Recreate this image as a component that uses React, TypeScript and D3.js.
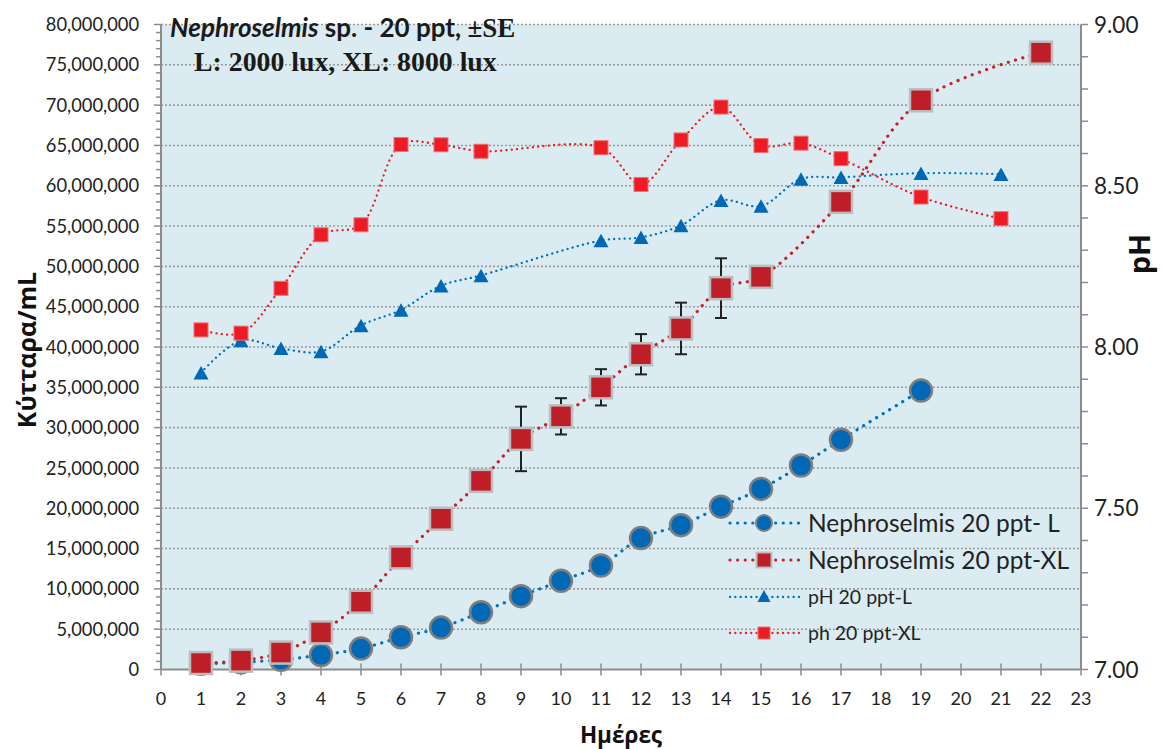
import React from "react";
import * as d3 from "d3";

// Cell counts (millions of cells/mL) and pH over the culture days
const cellDaysL = [1, 2, 3, 4, 5, 6, 7, 8, 9, 10, 11, 12, 13, 14, 15, 16, 17, 19];
const cellL = [0.7, 0.9, 1.2, 1.8, 2.6, 4.0, 5.2, 7.1, 9.1, 11.0, 12.9, 16.3, 17.9, 20.2, 22.4, 25.3, 28.5, 34.6];

const cellDaysXL = [1, 2, 3, 4, 5, 6, 7, 8, 9, 10, 11, 12, 13, 14, 15, 17, 19, 22];
const cellXL = [0.8, 1.1, 2.1, 4.6, 8.4, 13.9, 18.7, 23.4, 28.6, 31.4, 35.0, 39.1, 42.3, 47.3, 48.7, 58.0, 70.6, 76.5];
const seXL = [0, 0, 0, 0, 0, 0, 0, 0, 4.0, 2.25, 2.25, 2.5, 3.2, 3.7, 0, 0, 0, 0];

const phDays = [1, 2, 3, 4, 5, 6, 7, 8, 11, 12, 13, 14, 15, 16, 17, 19, 21];
const phL = [7.92, 8.02, 7.996, 7.986, 8.067, 8.115, 8.19, 8.222, 8.33, 8.34, 8.377, 8.455, 8.437, 8.521, 8.526, 8.539, 8.536];
const phXL = [8.053, 8.043, 8.182, 8.348, 8.379, 8.628, 8.627, 8.607, 8.618, 8.504, 8.642, 8.744, 8.625, 8.632, 8.584, 8.465, 8.398];

const xTicks = d3.range(0, 24);
const cellTicks = d3.range(0, 85, 5); // millions
const phTicks = [7.0, 7.5, 8.0, 8.5, 9.0];

const legendLabels = [
  "Nephroselmis 20 ppt- L",
  "Nephroselmis 20 ppt-XL",
  "pH 20 ppt-L",
  "ph 20 ppt-XL",
];

const W = 1162;
const H = 749;
const plot = { left: 161, right: 1081, top: 24.5, bottom: 669.5 };

const BLUE = "#0068b5";
const DARKRED = "#be1e27";
const RED = "#ed1c24";
const NUM_FONT = "Lato, 'Open Sans', sans-serif";
const GREEK_FONT = "'Open Sans', 'Noto Sans', sans-serif";
const SERIF = "'Liberation Serif', 'Times New Roman', serif";

export default function App() {
  const x = d3.scaleLinear().domain([0, 23]).range([plot.left, plot.right]);
  const y = d3.scaleLinear().domain([0, 80]).range([plot.bottom, plot.top]);
  const yPh = d3.scaleLinear().domain([7, 9]).range([plot.bottom, plot.top]);

  const curve = d3.curveCatmullRom.alpha(0.5);
  const lineCell = d3
    .line<[number, number]>()
    .x((d) => x(d[0]))
    .y((d) => y(d[1]))
    .curve(curve);
  const linePh = d3
    .line<[number, number]>()
    .x((d) => x(d[0]))
    .y((d) => yPh(d[1]))
    .curve(curve);

  const ptsL = cellDaysL.map((d, i) => [d, cellL[i]] as [number, number]);
  const ptsXL = cellDaysXL.map((d, i) => [d, cellXL[i]] as [number, number]);
  const ptsPhL = phDays.map((d, i) => [d, phL[i]] as [number, number]);
  const ptsPhXL = phDays.map((d, i) => [d, phXL[i]] as [number, number]);

  const minorCell = d3.range(0, 81, 1);
  const minorPh = d3.range(70, 91, 1).map((v) => v / 10);

  const tri = (cx: number, cy: number, w: number, h: number) =>
    `M${cx},${cy - h / 2}L${cx + w / 2},${cy + h / 2}L${cx - w / 2},${cy + h / 2}Z`;

  const legendY = [523, 560, 597, 633];
  const lgX0 = 730;
  const lgX1 = 800;
  const lgM = 764;

  return (
    <svg width={W} height={H} style={{ display: "block", position: "absolute", left: 0, top: 0 }}>
      <rect x={0} y={0} width={W} height={H} fill="#ffffff" />
      <rect
        x={plot.left}
        y={plot.top}
        width={plot.right - plot.left}
        height={plot.bottom - plot.top}
        fill="#daecf2"
      />

      {/* horizontal gridlines */}
      {cellTicks.slice(1).map((v) => (
        <line
          key={"g" + v}
          x1={plot.left}
          x2={plot.right}
          y1={y(v)}
          y2={y(v)}
          stroke="#9a9a9a"
          strokeWidth={1.6}
          strokeDasharray="2 2"
        />
      ))}

      {/* left axis */}
      <line x1={plot.left} x2={plot.left} y1={plot.top} y2={plot.bottom} stroke="#8c8c8c" strokeWidth={2} />
      {minorCell.map((v) => (
        <line
          key={"lm" + v}
          x1={plot.left - (v % 5 === 0 ? 7 : 5)}
          x2={plot.left}
          y1={y(v)}
          y2={y(v)}
          stroke="#8c8c8c"
          strokeWidth={1.5}
        />
      ))}
      {cellTicks.map((v) => (
        <text
          key={"lt" + v}
          x={139}
          y={y(v)}
          dy="0.36em"
          textAnchor="end"
          fontFamily={NUM_FONT}
          fontSize={18.3}
          fill="#222"
        >
          {d3.format(",")(v * 1e6)}
        </text>
      ))}

      {/* right axis */}
      <line x1={plot.right} x2={plot.right} y1={plot.top} y2={plot.bottom} stroke="#8c8c8c" strokeWidth={2} />
      {minorPh.map((v) => (
        <line
          key={"rm" + v}
          x1={plot.right}
          x2={plot.right + 7}
          y1={yPh(v)}
          y2={yPh(v)}
          stroke="#8c8c8c"
          strokeWidth={1.5}
        />
      ))}
      {phTicks.map((v) => (
        <text
          key={"rt" + v}
          x={1094}
          y={yPh(v)}
          dy="0.36em"
          fontFamily={NUM_FONT}
          fontSize={22.5}
          fill="#222"
        >
          {v.toFixed(2)}
        </text>
      ))}

      {/* bottom axis */}
      <line x1={plot.left} x2={plot.right} y1={plot.bottom} y2={plot.bottom} stroke="#8c8c8c" strokeWidth={2} />
      {xTicks.map((v) => (
        <g key={"xt" + v}>
          <line x1={x(v)} x2={x(v)} y1={plot.bottom - 6} y2={plot.bottom + 6} stroke="#8c8c8c" strokeWidth={1.5} />
          <text
            x={x(v)}
            y={705}
            textAnchor="middle"
            fontFamily={NUM_FONT}
            fontSize={18}
            fill="#222"
          >
            {v}
          </text>
        </g>
      ))}

      {/* axis titles */}
      <text
        transform={`translate(36,350) rotate(-90)`}
        textAnchor="middle"
        fontFamily={GREEK_FONT}
        fontWeight="bold"
        fontSize={25}
        fill="#111"
      >
        Κύτταρα/mL
      </text>
      <text
        transform={`translate(1150,254) rotate(-90)`}
        textAnchor="middle"
        fontFamily={GREEK_FONT}
        fontWeight="bold"
        fontSize={29}
        fill="#111"
      >
        pH
      </text>
      <text
        x={621}
        y={743}
        textAnchor="middle"
        fontFamily={GREEK_FONT}
        fontWeight="bold"
        fontSize={22.5}
        fill="#111"
      >
        Ημέρες
      </text>

      {/* cell count series, L */}
      <path
        d={lineCell(ptsL) || ""}
        fill="none"
        stroke="#0070c0"
        strokeWidth={3.2}
        strokeLinecap="round"
        strokeDasharray="0.1 7.5"
      />
      {ptsL.map((p, i) => (
        <circle key={"cl" + i} cx={x(p[0])} cy={y(p[1])} r={11} fill={BLUE} stroke="#7f7f7f" strokeWidth={2.5} />
      ))}

      {/* cell count series, XL with ±SE */}
      <path
        d={lineCell(ptsXL) || ""}
        fill="none"
        stroke="#c8202a"
        strokeWidth={3.2}
        strokeLinecap="round"
        strokeDasharray="0.1 7.5"
      />
      {ptsXL.map((p, i) =>
        seXL[i] > 0 ? (
          <g key={"se" + i} stroke="#222" strokeWidth={2}>
            <line x1={x(p[0])} x2={x(p[0])} y1={y(p[1] - seXL[i])} y2={y(p[1] + seXL[i])} />
            <line x1={x(p[0]) - 6} x2={x(p[0]) + 6} y1={y(p[1] + seXL[i])} y2={y(p[1] + seXL[i])} />
            <line x1={x(p[0]) - 6} x2={x(p[0]) + 6} y1={y(p[1] - seXL[i])} y2={y(p[1] - seXL[i])} />
          </g>
        ) : null
      )}
      {ptsXL.map((p, i) => (
        <rect
          key={"cx" + i}
          x={x(p[0]) - 11}
          y={y(p[1]) - 11}
          width={22}
          height={22}
          fill={DARKRED}
          stroke="#bdbdbd"
          strokeWidth={2.5}
        />
      ))}

      {/* pH series, L */}
      <path
        d={linePh(ptsPhL) || ""}
        fill="none"
        stroke="#0070c0"
        strokeWidth={2.3}
        strokeLinecap="round"
        strokeDasharray="0.1 5.2"
      />
      {ptsPhL.map((p, i) => (
        <path key={"pl" + i} d={tri(x(p[0]), yPh(p[1]), 15, 13.5)} fill={BLUE} />
      ))}

      {/* pH series, XL */}
      <path
        d={linePh(ptsPhXL) || ""}
        fill="none"
        stroke={RED}
        strokeWidth={2.3}
        strokeLinecap="round"
        strokeDasharray="0.1 5.2"
      />
      {ptsPhXL.map((p, i) => (
        <rect
          key={"px" + i}
          x={x(p[0]) - 7}
          y={yPh(p[1]) - 7}
          width={14}
          height={14}
          fill={RED}
          stroke="#f07070"
          strokeWidth={1}
        />
      ))}

      {/* title */}
      <text x={170} y={37} fontSize={26} fill="#1a1a1a" fontWeight="bold">
        <tspan fontFamily={NUM_FONT} fontStyle="italic">Nephroselmis</tspan>
        <tspan fontFamily={NUM_FONT}> sp. - 20 ppt, </tspan>
        <tspan fontFamily={SERIF} fontSize={27}>±SE</tspan>
      </text>
      <text x={194} y={71} fontFamily={SERIF} fontWeight="bold" fontSize={27.8} fill="#1a1a1a">
        L: 2000 lux, XL: 8000 lux
      </text>

      {/* legend */}
      <g>
        <line x1={lgX0} x2={lgX1} y1={legendY[0]} y2={legendY[0]} stroke="#0070c0" strokeWidth={3.2} strokeLinecap="round" strokeDasharray="0.1 7.5" />
        <circle cx={lgM} cy={legendY[0]} r={8} fill={BLUE} stroke="#7f7f7f" strokeWidth={2} />
        <line x1={lgX0} x2={lgX1} y1={legendY[1]} y2={legendY[1]} stroke="#c8202a" strokeWidth={3.2} strokeLinecap="round" strokeDasharray="0.1 7.5" />
        <rect x={lgM - 7.5} y={legendY[1] - 7.5} width={15} height={15} fill={DARKRED} stroke="#bdbdbd" strokeWidth={2} />
        <line x1={lgX0} x2={lgX1} y1={legendY[2]} y2={legendY[2]} stroke="#0070c0" strokeWidth={2.3} strokeLinecap="round" strokeDasharray="0.1 5.2" />
        <path d={tri(lgM, legendY[2] - 1, 13, 12)} fill={BLUE} />
        <line x1={lgX0} x2={lgX1} y1={legendY[3]} y2={legendY[3]} stroke={RED} strokeWidth={2.3} strokeLinecap="round" strokeDasharray="0.1 5.2" />
        <rect x={lgM - 6} y={legendY[3] - 6} width={12} height={12} fill={RED} stroke="#f07070" strokeWidth={1} />
        {legendLabels.map((t, i) => (
          <text
            key={"lg" + i}
            x={808}
            y={legendY[i]}
            dy="0.36em"
            fontFamily={NUM_FONT}
            fontSize={i < 2 ? 24.5 : 19.5}
            fill="#222"
          >
            {t}
          </text>
        ))}
      </g>
    </svg>
  );
}
